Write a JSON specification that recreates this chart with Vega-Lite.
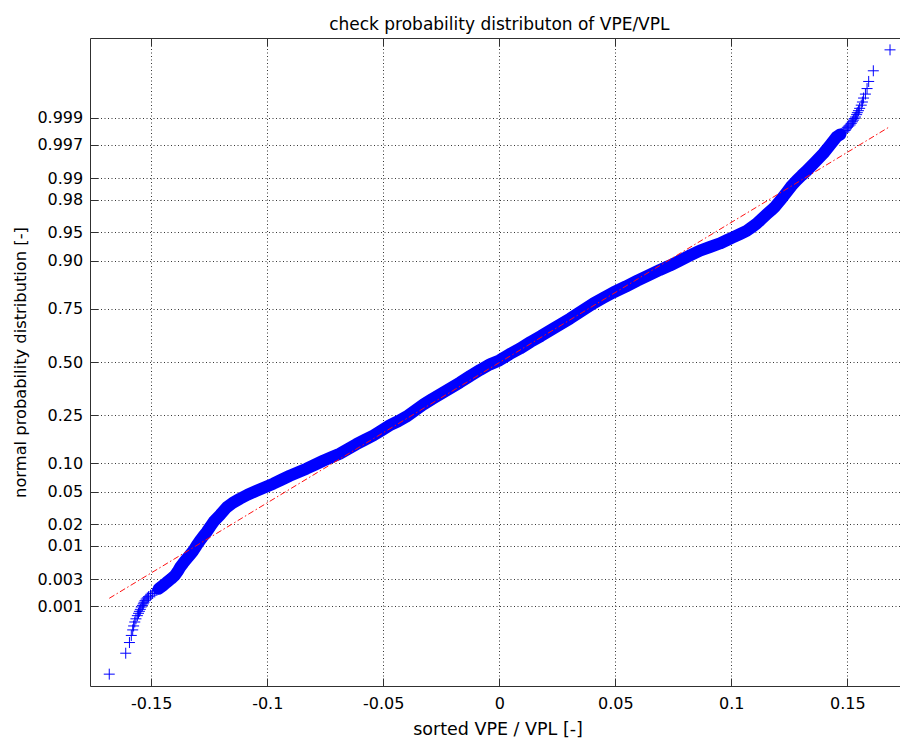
{
  "$schema": "https://vega.github.io/schema/vega-lite/v6.json",
  "width": 810,
  "height": 648,
  "autosize": {"type": "none"},
  "padding": {"left": 90, "top": 38, "right": 0, "bottom": 54},
  "background": "white",
  "config": {
    "view": {"stroke": null},
    "font": "DejaVu Sans",
    "axis": {
      "domainColor": "#303030",
      "tickColor": "#303030",
      "domainWidth": 1,
      "tickWidth": 1,
      "labelColor": "black",
      "titleColor": "black",
      "labelFont": "DejaVu Sans",
      "titleFont": "DejaVu Sans",
      "titleFontWeight": "normal",
      "labelFontSize": 16,
      "gridColor": "#202020",
      "gridDash": [1, 2.5],
      "gridWidth": 1,
      "gridOpacity": 0.9,
      "labelOverlap": false,
      "labelFlush": false
    }
  },
  "title": {
    "text": "check probability distributon of VPE/VPL",
    "font": "DejaVu Sans",
    "fontSize": 17,
    "fontWeight": "normal",
    "color": "black",
    "anchor": "middle",
    "baseline": "alphabetic",
    "offset": 12,
    "dx": 4.3,
    "dy": 21.5
  },
  "datasets": {
    "samples": [
      {"ratio": -0.1681, "zscore": -3.95},
      {"ratio": -0.1610, "zscore": -3.685},
      {"ratio": -0.1594, "zscore": -3.55},
      {"ratio": -0.1586, "zscore": -3.46},
      {"ratio": -0.1580, "zscore": -3.39},
      {"ratio": -0.1576, "zscore": -3.34},
      {"ratio": -0.1571, "zscore": -3.29},
      {"ratio": -0.1566, "zscore": -3.25},
      {"ratio": -0.1560, "zscore": -3.21},
      {"ratio": -0.1555, "zscore": -3.18},
      {"ratio": -0.1551, "zscore": -3.155},
      {"ratio": -0.1547, "zscore": -3.13},
      {"ratio": -0.1543, "zscore": -3.10},
      {"ratio": -0.1538, "zscore": -3.08},
      {"ratio": -0.1534, "zscore": -3.06},
      {"ratio": -0.1531, "zscore": -3.04},
      {"ratio": -0.1527, "zscore": -3.02},
      {"ratio": -0.1522, "zscore": -3.00},
      {"ratio": -0.1517, "zscore": -2.985},
      {"ratio": -0.1512, "zscore": -2.97},
      {"ratio": -0.1503, "zscore": -2.95},
      {"ratio": -0.1494, "zscore": -2.93},
      {"ratio": -0.1485, "zscore": -2.91},
      {"ratio": -0.1476, "zscore": -2.89},
      {"ratio": -0.1468, "zscore": -2.87},
      {"ratio": -0.1450, "zscore": -2.83},
      {"ratio": -0.1434, "zscore": -2.79},
      {"ratio": -0.1415, "zscore": -2.745},
      {"ratio": -0.1398, "zscore": -2.70},
      {"ratio": -0.1386, "zscore": -2.65},
      {"ratio": -0.1376, "zscore": -2.60},
      {"ratio": -0.1362, "zscore": -2.545},
      {"ratio": -0.1347, "zscore": -2.49},
      {"ratio": -0.1333, "zscore": -2.44},
      {"ratio": -0.1319, "zscore": -2.39},
      {"ratio": -0.1305, "zscore": -2.325},
      {"ratio": -0.1290, "zscore": -2.26},
      {"ratio": -0.1276, "zscore": -2.205},
      {"ratio": -0.1261, "zscore": -2.15},
      {"ratio": -0.1245, "zscore": -2.08},
      {"ratio": -0.1228, "zscore": -2.01},
      {"ratio": -0.1202, "zscore": -1.93},
      {"ratio": -0.1175, "zscore": -1.84},
      {"ratio": -0.1148, "zscore": -1.78},
      {"ratio": -0.1118, "zscore": -1.73},
      {"ratio": -0.1085, "zscore": -1.68},
      {"ratio": -0.1046, "zscore": -1.63},
      {"ratio": -0.1010, "zscore": -1.585},
      {"ratio": -0.0974, "zscore": -1.54},
      {"ratio": -0.0939, "zscore": -1.49},
      {"ratio": -0.0903, "zscore": -1.44},
      {"ratio": -0.0867, "zscore": -1.395},
      {"ratio": -0.0831, "zscore": -1.35},
      {"ratio": -0.0795, "zscore": -1.30},
      {"ratio": -0.0759, "zscore": -1.25},
      {"ratio": -0.0724, "zscore": -1.205},
      {"ratio": -0.0688, "zscore": -1.16},
      {"ratio": -0.0652, "zscore": -1.10},
      {"ratio": -0.0616, "zscore": -1.04},
      {"ratio": -0.0580, "zscore": -0.985},
      {"ratio": -0.0543, "zscore": -0.93},
      {"ratio": -0.0507, "zscore": -0.865},
      {"ratio": -0.0471, "zscore": -0.80},
      {"ratio": -0.0436, "zscore": -0.75},
      {"ratio": -0.0400, "zscore": -0.69},
      {"ratio": -0.0364, "zscore": -0.615},
      {"ratio": -0.0328, "zscore": -0.54},
      {"ratio": -0.0290, "zscore": -0.47},
      {"ratio": -0.0250, "zscore": -0.40},
      {"ratio": -0.0210, "zscore": -0.33},
      {"ratio": -0.0170, "zscore": -0.26},
      {"ratio": -0.0125, "zscore": -0.175},
      {"ratio": -0.0083, "zscore": -0.10},
      {"ratio": -0.0040, "zscore": -0.03},
      {"ratio": 0.0000, "zscore": 0.02},
      {"ratio": 0.0045, "zscore": 0.10},
      {"ratio": 0.0089, "zscore": 0.17},
      {"ratio": 0.0135, "zscore": 0.255},
      {"ratio": 0.0180, "zscore": 0.33},
      {"ratio": 0.0225, "zscore": 0.41},
      {"ratio": 0.0265, "zscore": 0.48},
      {"ratio": 0.0305, "zscore": 0.55},
      {"ratio": 0.0355, "zscore": 0.645},
      {"ratio": 0.0405, "zscore": 0.74},
      {"ratio": 0.0450, "zscore": 0.815},
      {"ratio": 0.0491, "zscore": 0.88},
      {"ratio": 0.0545, "zscore": 0.955},
      {"ratio": 0.0595, "zscore": 1.03},
      {"ratio": 0.0645, "zscore": 1.10},
      {"ratio": 0.0692, "zscore": 1.165},
      {"ratio": 0.0735, "zscore": 1.22},
      {"ratio": 0.0776, "zscore": 1.28},
      {"ratio": 0.0820, "zscore": 1.345},
      {"ratio": 0.0865, "zscore": 1.41},
      {"ratio": 0.0908, "zscore": 1.455},
      {"ratio": 0.0951, "zscore": 1.50},
      {"ratio": 0.0980, "zscore": 1.54},
      {"ratio": 0.1009, "zscore": 1.58},
      {"ratio": 0.1038, "zscore": 1.62},
      {"ratio": 0.1066, "zscore": 1.66},
      {"ratio": 0.1088, "zscore": 1.705},
      {"ratio": 0.1109, "zscore": 1.75},
      {"ratio": 0.1131, "zscore": 1.81},
      {"ratio": 0.1153, "zscore": 1.87},
      {"ratio": 0.1172, "zscore": 1.92},
      {"ratio": 0.1190, "zscore": 1.97},
      {"ratio": 0.1215, "zscore": 2.06},
      {"ratio": 0.1239, "zscore": 2.15},
      {"ratio": 0.1260, "zscore": 2.23},
      {"ratio": 0.1282, "zscore": 2.30},
      {"ratio": 0.1303, "zscore": 2.36},
      {"ratio": 0.1325, "zscore": 2.42},
      {"ratio": 0.1361, "zscore": 2.53},
      {"ratio": 0.1397, "zscore": 2.64},
      {"ratio": 0.1426, "zscore": 2.745},
      {"ratio": 0.1454, "zscore": 2.85},
      {"ratio": 0.1470, "zscore": 2.88},
      {"ratio": 0.1485, "zscore": 2.91},
      {"ratio": 0.1490, "zscore": 2.93},
      {"ratio": 0.1495, "zscore": 2.95},
      {"ratio": 0.1500, "zscore": 2.97},
      {"ratio": 0.1506, "zscore": 2.985},
      {"ratio": 0.1512, "zscore": 3.00},
      {"ratio": 0.1517, "zscore": 3.02},
      {"ratio": 0.1522, "zscore": 3.04},
      {"ratio": 0.1526, "zscore": 3.06},
      {"ratio": 0.1530, "zscore": 3.08},
      {"ratio": 0.1535, "zscore": 3.10},
      {"ratio": 0.1540, "zscore": 3.13},
      {"ratio": 0.1543, "zscore": 3.155},
      {"ratio": 0.1548, "zscore": 3.18},
      {"ratio": 0.1553, "zscore": 3.21},
      {"ratio": 0.1560, "zscore": 3.25},
      {"ratio": 0.1565, "zscore": 3.29},
      {"ratio": 0.1570, "zscore": 3.34},
      {"ratio": 0.1578, "zscore": 3.39},
      {"ratio": 0.1585, "zscore": 3.46},
      {"ratio": 0.1592, "zscore": 3.55},
      {"ratio": 0.1612, "zscore": 3.685},
      {"ratio": 0.1684, "zscore": 3.95}
    ],
    "fit": [
      {"ratio": -0.1681, "zscore": -2.99},
      {"ratio": 0.1684, "zscore": 2.98}
    ]
  },
  "layer": [
    {
      "data": {"name": "samples"},
      "transform": [{"filter": "datum.zscore >= -2.875 && datum.zscore <= 2.885"}],
      "mark": {"type": "line", "color": "#0000ff", "strokeWidth": 12, "strokeCap": "round", "strokeJoin": "round"},
      "encoding": {
        "x": {
          "field": "ratio",
          "type": "quantitative",
          "scale": {"domain": [-0.1764, 0.1727], "nice": false, "zero": false},
          "axis": {
            "orient": "bottom",
            "values": [-0.15, -0.1, -0.05, 0, 0.05, 0.1, 0.15],
            "labelExpr": "datum.value + ''",
            "grid": true,
            "tickSize": -8,
            "labelPadding": 17.5,
            "title": "sorted VPE / VPL [-]",
            "titleFontSize": 17.5,
            "titleBaseline": "alphabetic",
            "titleX": 407.5,
            "titleY": 48
          }
        },
        "y": {
          "field": "zscore",
          "type": "quantitative",
          "scale": {"domain": [-4.1, 4.1], "nice": false, "zero": false},
          "axis": {
            "values": [-3.0902, -2.7478, -2.3263, -2.0537, -1.6449, -1.2816, -0.6745, 0, 0.6745, 1.2816, 1.6449, 2.0537, 2.3263, 2.7478, 3.0902],
            "labelExpr": "slice(format(cumulativeNormal(datum.value), '.3f'), -1) == '0' ? format(cumulativeNormal(datum.value), '.2f') : format(cumulativeNormal(datum.value), '.3f')",
            "grid": true,
            "tickSize": -8,
            "labelPadding": 15.3,
            "title": "normal probability distribution [-]",
            "titleFontSize": 16.3,
            "titleAngle": 270,
            "titleBaseline": "middle",
            "titleX": -69.5,
            "titleY": 324
          }
        },
        "order": {"field": "zscore", "type": "quantitative"}
      }
    },
    {
      "data": {"name": "samples"},
      "mark": {"type": "point", "shape": "M-1,0L1,0M0,-1L0,1", "size": 121, "filled": false, "color": "#0000ff", "strokeWidth": 1, "opacity": 1},
      "encoding": {
        "x": {
          "field": "ratio",
          "type": "quantitative",
          "axis": {
            "orient": "top",
            "values": [-0.15, -0.1, -0.05, 0, 0.05, 0.1, 0.15],
            "labels": false,
            "title": null,
            "grid": false,
            "tickSize": -8
          }
        },
        "y": {"field": "zscore", "type": "quantitative"}
      }
    },
    {
      "data": {"name": "fit"},
      "mark": {"type": "line", "color": "#ff1010", "strokeWidth": 1, "strokeDash": [6, 2.5, 1.5, 2.5]},
      "encoding": {
        "x": {"field": "ratio", "type": "quantitative", "axis": null},
        "y": {"field": "zscore", "type": "quantitative"}
      }
    }
  ],
  "resolve": {"axis": {"x": "independent"}}
}
